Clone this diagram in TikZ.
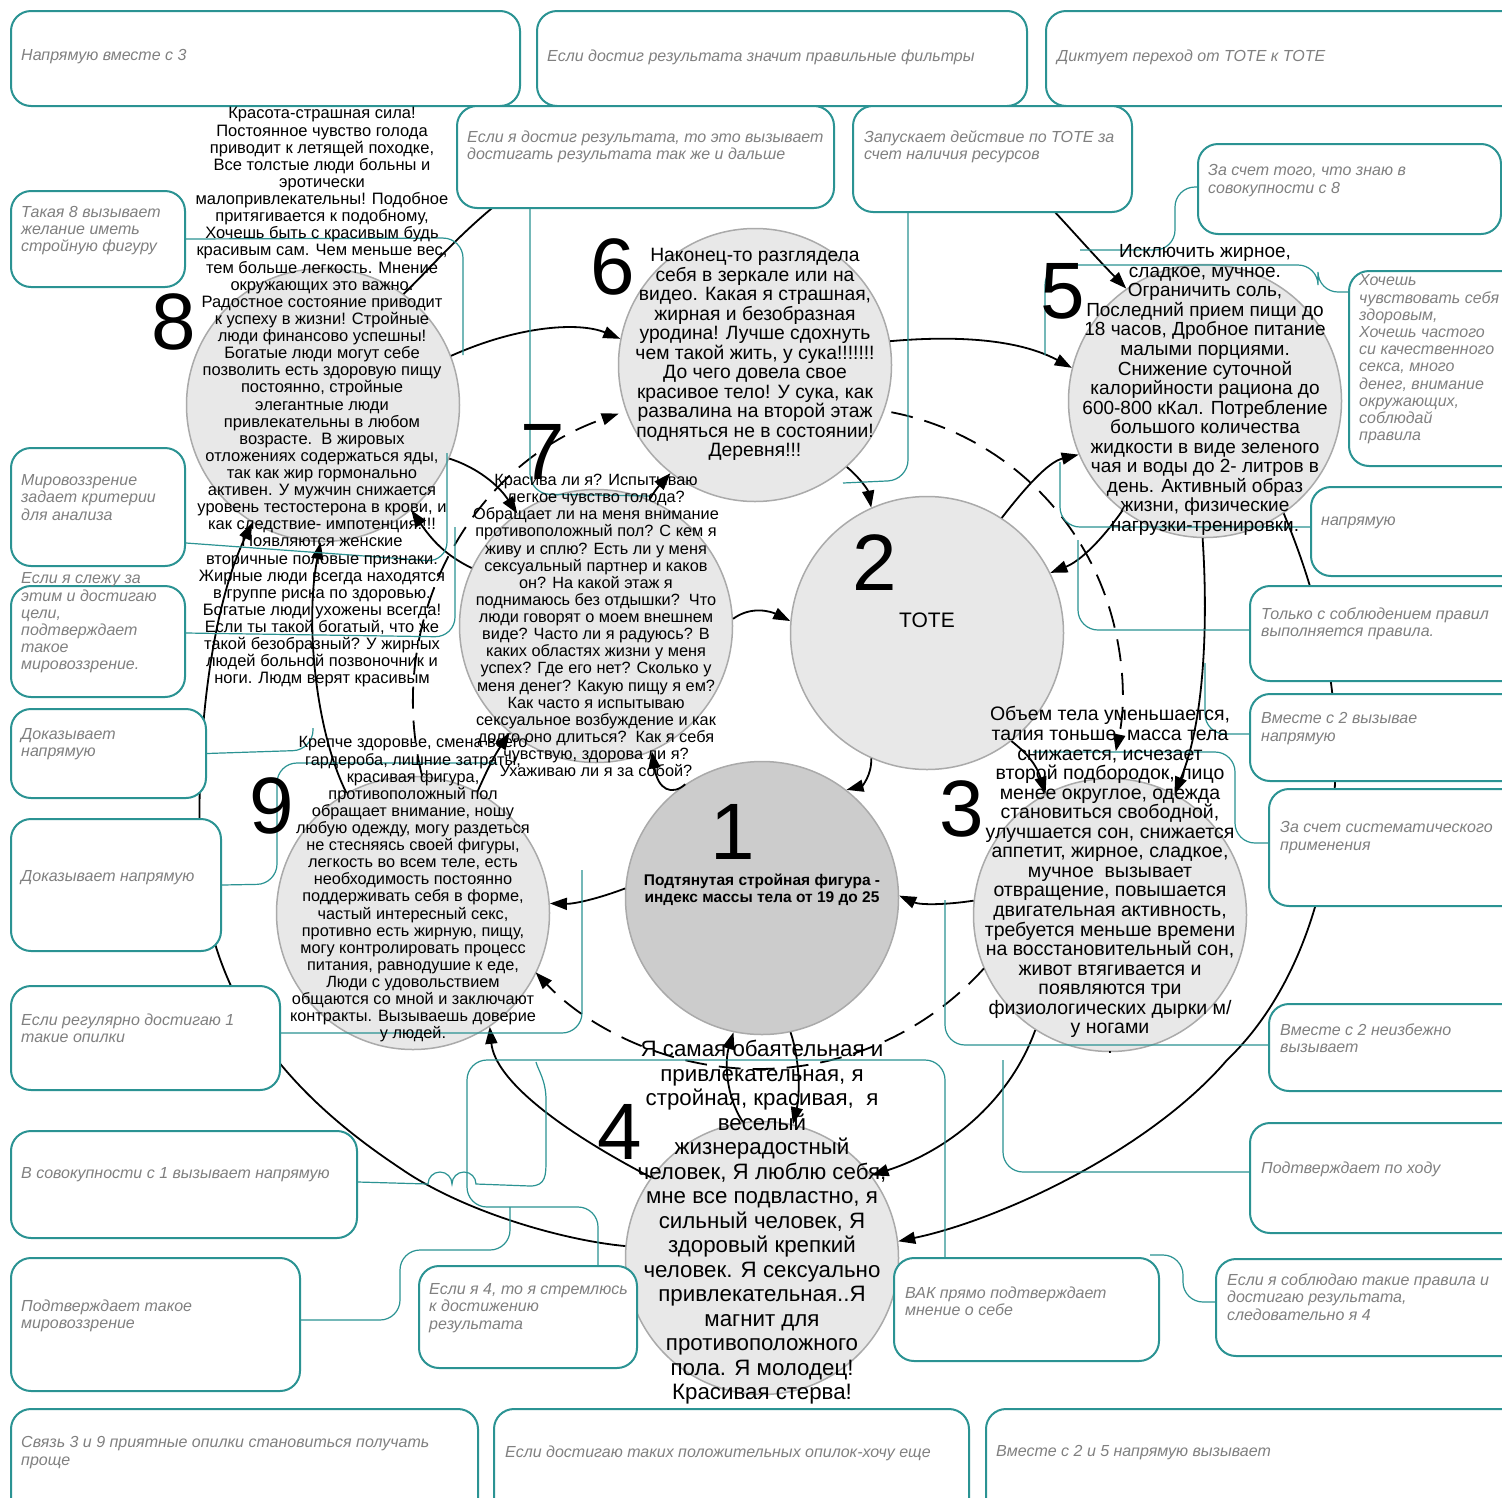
\documentclass[tikz,border=0pt]{standalone}
\usepackage{fontspec}
\setmainfont{Liberation Sans}
\usetikzlibrary{arrows.meta}
\definecolor{tealc}{HTML}{2B9393}
\definecolor{circfill}{HTML}{E8E8E8}
\definecolor{circdark}{HTML}{CCCCCC}
\definecolor{circline}{HTML}{AAAAAA}
\definecolor{boxtxt}{HTML}{808080}
\begin{document}
\begin{tikzpicture}[x=1pt,y=-1pt,
  circ/.style={circle, draw=circline, line width=1.5pt, fill=circfill, minimum size=273pt, inner sep=0pt},
  num/.style={font=\fontsize{80}{80}\selectfont, inner sep=0pt},
  ctxt/.style={align=center, inner sep=0pt},
  arr/.style={draw=black, line width=1.8pt, -{Triangle[length=17pt,width=12pt]}},
  darr/.style={arr, dash pattern=on 22pt off 12pt},
  tline/.style={draw=tealc, line width=1.2pt, rounded corners=20pt},
  bx/.style={draw=tealc, line width=2pt, fill=white, rounded corners=20pt, anchor=north west, inner sep=0pt},
  btxt/.style={font=\fontsize{16}{17.2}\selectfont\itshape, text=boxtxt, align=left, anchor=west, inner sep=0pt}
]
\clip (0,0) rectangle (1502,1497);
\fill[white] (0,0) rectangle (1502,1497);

% circles
\node[circ] (c8) at (323,405) {};
\node[circ] (c6) at (755,365) {};
\node[circ] (c5) at (1205,401) {};
\node[circ] (c7) at (596,626) {};
\node[circ] (c2) at (927,633) {};
\node[circ, fill=circdark] (c1) at (762,898) {};
\node[circ] (c9) at (413,913) {};
\node[circ] (c3) at (1110,915) {};
\node[circ] (c4) at (762,1258) {};

% black connectors
\draw[arr] (c8.21) .. controls (520,325) and (580,322) .. (c6.169);
\draw[arr] (c6.10) .. controls (960,335) and (1020,340) .. (c5.166);
\draw[arr] (c2.57) .. controls (1025,488) and (1048,462) .. (c5.203);
\draw[arr] (c5.233) .. controls (1098,545) and (1078,562) .. (c2.26);
\draw[arr] (c6.-48) .. controls (860,478) and (868,490) .. (c2.114);
\draw[arr] (c7.3) .. controls (752,605) and (772,612) .. (c2.175);
\draw[arr] (c2.246) .. controls (872,775) and (862,786) .. (c1.52);
\draw[arr] (c1.124) .. controls (672,796) and (658,790) .. (c7.-66);
\draw[arr] (c1.176) .. controls (600,898) and (575,904) .. (c9.4);
\draw[arr] (c3.174) .. controls (945,905) and (920,905) .. (c1.1);
\draw[arr] (c1.-78) .. controls (800,1060) and (800,1095) .. (c4.77);
\draw[arr] (c4.98) .. controls (725,1095) and (725,1060) .. (c1.-102);
\draw[arr] (c3.237) .. controls (1010,1100) and (950,1150) .. (c4.37);
\draw[arr] (c5.-55) .. controls (1320,600) and (1340,690) .. (1335,783) .. controls (1330,900) and (1290,1000) .. (1227,1060) .. controls (1150,1150) and (1000,1220) .. (c4.7);
\draw[arr] (c4.175) .. controls (560,1240) and (460,1210) .. (400,1168) .. controls (290,1095) and (205,1000) .. (200,850) .. controls (196,720) and (215,600) .. (c8.239);
\draw[arr] (c4.144) .. controls (560,1130) and (495,1080) .. (c9.-56);
\draw[arr] (c9.119) .. controls (315,730) and (305,620) .. (c8.269);
\draw[arr] (c7.155) .. controls (445,555) and (432,540) .. (c8.-50);
\draw[arr] (c8.-23) .. controls (470,465) and (495,480) .. (c7.125);
\draw[arr] (c9.62) .. controls (488,768) and (493,758) .. (c7.231);
\draw[arr] (c7.67) .. controls (652,495) and (657,488) .. (c6.232);
\draw[arr] (c2.-52) .. controls (1020,748) and (1035,760) .. (c3.118);
\draw[arr] (c5.269) .. controls (1208,620) and (1205,720) .. (c3.62);
\draw[arr] (c8.54) .. controls (470,230) and (560,100) .. (840,90) .. controls (960,85) and (1040,200) .. (c5.125);

% dashed connectors
\coordinate (d1c) at (837,692);
\coordinate (d2c) at (758,765);
\coordinate (d3c) at (718,702);
\draw[darr] ([shift={(-79:285)}]d1c) arc[start angle=-79, end angle=12, radius=285];
\draw[darr] ([shift={(42:304)}]d2c) arc[start angle=42, end angle=137, radius=304];
\draw[darr] ([shift={(166:305)}]d3c) arc[start angle=166, end angle=251, radius=305];

% boxes
\node[bx, minimum width=509pt, minimum height=95pt] (b1) at (10,10) {};
\node[bx, minimum width=490pt, minimum height=95pt] (b2) at (536,10) {};
\node[bx, minimum width=485pt, minimum height=95pt] (b3) at (1045,10) {};
\node[bx, minimum width=377pt, minimum height=102pt] (b4) at (456,105) {};
\node[bx, minimum width=279pt, minimum height=106pt] (b5) at (852,105) {};
\node[bx, minimum width=303pt, minimum height=90pt] (b6) at (1197,143) {};
\node[bx, minimum width=182pt, minimum height=195pt] (b7) at (1348,270) {};
\node[bx, minimum width=220pt, minimum height=89pt] (b8) at (1310,486) {};
\node[bx, minimum width=281pt, minimum height=95pt] (b9) at (1249,585) {};
\node[bx, minimum width=281pt, minimum height=87pt] (b10) at (1249,693) {};
\node[bx, minimum width=262pt, minimum height=117pt] (b11) at (1268,788) {};
\node[bx, minimum width=262pt, minimum height=87pt] (b12) at (1268,1003) {};
\node[bx, minimum width=281pt, minimum height=110pt] (b13) at (1249,1122) {};
\node[bx, minimum width=315pt, minimum height=97pt] (b14) at (1215,1258) {};
\node[bx, minimum width=545pt, minimum height=117pt] (b15) at (985,1408) {};
\node[bx, minimum width=475pt, minimum height=117pt] (b16) at (493,1408) {};
\node[bx, minimum width=467pt, minimum height=117pt] (b17) at (10,1408) {};
\node[bx, minimum width=289pt, minimum height=133pt] (b18) at (10,1257) {};
\node[bx, minimum width=218pt, minimum height=102pt] (b19) at (418,1265) {};
\node[bx, minimum width=265pt, minimum height=103pt] (b20) at (893,1257) {};
\node[bx, minimum width=346pt, minimum height=107pt] (b21) at (10,1130) {};
\node[bx, minimum width=269pt, minimum height=104pt] (b22) at (10,985) {};
\node[bx, minimum width=210pt, minimum height=132pt] (b23) at (10,818) {};
\node[bx, minimum width=195pt, minimum height=89pt] (b24) at (10,708) {};
\node[bx, minimum width=174pt, minimum height=111pt] (b25) at (10,585) {};
\node[bx, minimum width=174pt, minimum height=118pt] (b26) at (10,447) {};
\node[bx, minimum width=174pt, minimum height=96pt] (b27) at (10,190) {};

% teal connectors
\draw[tline] (b27.east) -- (463,238) -- (463,355);
\draw[tline] (b26.east |- 0,543) -- (447,562) -- (447,453);
\draw[tline] (b25.east |- 0,633) -- (455,637) -- (455,527);
\draw[tline] (b24.east) -- (313,750) -- (313,728);
\draw[tline] (b23.east) -- (277,884) -- (277,763) -- (497,763);
\draw[tline] (b22.east |- 0,1033) -- (582,1033) -- (582,870);
\draw[tline, sharp corners] (b21.east |- 0,1182) -- (428,1184) arc[start angle=180, end angle=360, radius=12] arc[start angle=180, end angle=360, radius=12] -- (530,1186) .. controls (546,1186) and (546,1175) .. (546,1160) -- (546,1100) .. controls (546,1080) and (538,1070) .. (536,1062);
\draw[tline] (b18.east |- 0,1320) -- (400,1320) -- (400,1250) -- (510,1250) -- (510,1207);
\draw[tline] (b19.north -| 598,0) -- (598,1207) -- (467,1207) -- (467,1060) -- (945,1060) -- (b20.north -| 945,0);
\draw[tline] (b4.south -| 530,0) -- (530,494) -- (650,496);
\draw[tline] (b5.south -| 908,0) -- (908,480) -- (843,483);
\draw[tline] (b6.west |- 0,187) -- (1175,187) -- (1175,250) -- (1080,250);
\draw[tline] (b7.west |- 0,292) -- (1318,292) -- (1318,265) -- (1045,265) -- (1045,355);
\draw[tline] (b8.west |- 0,527) -- (1060,527) -- (1060,462);
\draw[tline] (b9.west |- 0,630) -- (1078,630) -- (1078,540);
\draw[tline] (b10.west |- 0,734) -- (1205,734) -- (1205,663);
\draw[tline] (b11.west |- 0,843) -- (1235,843) -- (1235,752) -- (1033,752);
\draw[tline] (b12.west |- 0,1045) -- (945,1045) -- (945,900);
\draw[tline] (b13.west |- 0,1172) -- (1003,1172) -- (1003,1060);
\draw[tline] (b14.west |- 0,1302) -- (1183,1302) -- (1183,1255) -- (1150,1255);

% box texts
\node[btxt] (b1t) at (21,57) {Напрямую вместе с 3};
\node[btxt] (b2t) at (547,57) {Если достиг результата значит правильные фильтры};
\node[btxt] (b3t) at (1057,57) {Диктует переход от TOTE к TOTE};
\node[btxt] (b4t) at (467,147) {Если я достиг результата, то это вызывает\\достигать результата так же и дальше};
\node[btxt] (b5t) at (864,147) {Запускает действие по TOTE за\\счет наличия ресурсов};
\node[btxt] (b6t) at (1208,180.5) {За счет того, что знаю в\\совокупности с 8};
\node[btxt] (b7t) at (1359,359.5) {Хочешь\\чувствовать себя\\здоровым,\\Хочешь частого\\си качественного\\секса, много\\денег, внимание\\окружающих,\\соблюдай\\правила};
\node[btxt] (b8t) at (1321,523) {напрямую};
\node[btxt] (b9t) at (1261,623.5) {Только с соблюдением правил\\выполняется правила.};
\node[btxt] (b10t) at (1261,728.5) {Вместе с 2 вызывае\\напрямую};
\node[btxt] (b11t) at (1280,837.5) {За счет систематического\\применения};
\node[btxt] (b12t) at (1280,1038.5) {Вместе с 2 неизбежно\\вызывает};
\node[btxt] (b13t) at (1261,1169) {Подтверждает по ходу};
\node[btxt] (b14t) at (1227,1297) {Если я соблюдаю такие правила и\\достигаю результата,\\следовательно я 4};
\node[btxt] (b15t) at (996,1453) {Вместе с 2 и 5 напрямую вызывает};
\node[btxt] (b16t) at (505,1453) {Если достигаю таких положительных опилок-хочу еще};
\node[btxt] (b17t) at (21,1452.5) {Связь 3 и 9 приятные опилки становиться получать\\проще};
\node[btxt] (b18t) at (21,1316) {Подтверждает такое\\мировоззрение};
\node[btxt] (b19t) at (429,1308) {Если я 4, то я стремлюсь\\к достижению\\результата};
\node[btxt] (b20t) at (905,1301) {ВАК прямо подтверждает\\мнение о себе};
\node[btxt] (b21t) at (21,1175) {В совокупности с 1 вызывает напрямую};
\node[btxt] (b22t) at (21,1028.5) {Если регулярно достигаю 1\\такие опилки};
\node[btxt] (b23t) at (21,878) {Доказывает напрямую};
\node[btxt] (b24t) at (21,744.5) {Доказывает\\напрямую};
\node[btxt] (b25t) at (21,623) {Если я слежу за\\этим и достигаю\\цели,\\подтверждает\\такое\\мировоззрение.};
\node[btxt] (b26t) at (21,497.5) {Мировоззрение\\задает критерии\\для анализа};
\node[btxt] (b27t) at (21,230.5) {Такая 8 вызывает\\желание иметь\\стройную фигуру};

% numbers
\node[num] (n8) at (174,322) {8};
\node[num] (n6) at (613,267) {6};
\node[num] (n5) at (1063,291) {5};
\node[num] (n7) at (543,452) {7};
\node[num] (n2) at (875,563) {2};
\node[num] (n1) at (733,832) {1};
\node[num] (n3) at (962,809) {3};
\node[num] (n9) at (272,806) {9};
\node[num] (n4) at (620,1132) {4};

% circle texts
\node[ctxt, font=\fontsize{21}{24}\selectfont] (tote) at (927,620) {TOTE};
\node[ctxt, font=\fontsize{15.5}{17}\selectfont\bfseries] (t1) at (762,890) {Подтянутая стройная фигура -\\индекс массы тела от 19 до 25};
\node[ctxt, font=\fontsize{16.5}{17.12}\selectfont] (t8) at (322,397.5) {Красота-страшная сила!\\Постоянное чувство голода\\приводит к летящей походке,\\Все толстые люди больны и\\эротически\\малопривлекательны! Подобное\\притягивается к подобному,\\Хочешь быть с красивым будь\\красивым сам. Чем меньше вес,\\тем больше легкость. Мнение\\окружающих это важно.\\Радостное состояние приводит\\к успеху в жизни! Стройные\\люди финансово успешны!\\Богатые люди могут себе\\позволить есть здоровую пищу\\постоянно, стройные\\элегантные люди\\привлекательны в любом\\возрасте.\ \ В жировых\\отложениях содержаться яды,\\так как жир гормонально\\активен. У мужчин снижается\\уровень тестостерона в крови, и\\как следствие- импотенция!!!!\\Появляются женские\\вторичные половые признаки.\\Жирные люди всегда находятся\\в группе риска по здоровью.\\Богатые люди ухожены всегда!\\Если ты такой богатый, что же\\такой безобразный? У жирных\\людей больной позвоночник и\\ноги. Людм верят красивым};
\node[ctxt, font=\fontsize{19.3}{19.5}\selectfont] (t6) at (755,354.5) {Наконец-то разглядела\\себя в зеркале или на\\видео. Какая я страшная,\\жирная и безобразная\\уродина! Лучше сдохнуть\\чем такой жить, у сука!!!!!!!\\До чего довела свое\\красивое тело! У сука, как\\развалина на второй этаж\\подняться не в состоянии!\\Деревня!!!};
\node[ctxt, font=\fontsize{19}{19.57}\selectfont] (t5) at (1205,390) {Исключить жирное,\\сладкое, мучное.\\Ограничить соль,\\Последний прием пищи до\\18 часов, Дробное питание\\малыми порциями.\\Снижение суточной\\калорийности рациона до\\600-800 кКал. Потребление\\большого количества\\жидкости в виде зеленого\\чая и воды до 2- литров в\\день. Активный образ\\жизни, физические\\нагрузки-тренировки.};
\node[ctxt, font=\fontsize{16.3}{17.12}\selectfont] (t7) at (596,625.5) {Красива ли я? Испытываю\\легкое чувство голода?\\Обращает ли на меня внимание\\противоположный пол? С кем я\\живу и сплю? Есть ли у меня\\сексуальный партнер и каков\\он? На какой этаж я\\поднимаюсь без отдышки?\ \ Что\\люди говорят о моем внешнем\\виде? Часто ли я радуюсь? В\\каких областях жизни у меня\\успех? Где его нет? Сколько у\\меня денег? Какую пищу я ем?\\Как часто я испытываю\\сексуальное возбуждение и как\\долго оно длиться?\ \ Как я себя\\чувствую, здорова ли я?\\Ухаживаю ли я за собой?};
\node[ctxt, font=\fontsize{16.3}{17.12}\selectfont] (t9) at (413,889.5) {Крепче здоровье, смена всего\\гардероба, лишние затраты,\\красивая фигура,\\противоположный пол\\обращает внимание, ношу\\любую одежду, могу раздеться\\не стесняясь своей фигуры,\\легкость во всем теле, есть\\необходимость постоянно\\поддерживать себя в форме,\\частый интересный секс,\\противно есть жирную, пищу,\\могу контролировать процесс\\питания, равнодушие к еде,\\Люди с удовольствием\\общаются со мной и заключают\\контракты. Вызываешь доверие\\у людей.};
\node[ctxt, font=\fontsize{19.5}{19.55}\selectfont] (t3) at (1110,880) {Объем тела уменьшается,\\талия тоньше, масса тела\\снижается, исчезает\\второй подбородок, лицо\\менее округлое, одежда\\становиться свободной,\\улучшается сон, снижается\\аппетит, жирное, сладкое,\\мучное\ \ вызывает\\отвращение, повышается\\двигательная активность,\\требуется меньше времени\\на восстановительный сон,\\живот втягивается и\\появляются три\\физиологических дырки м/\\у ногами\\.};
\node[ctxt, font=\fontsize{22.3}{24.5}\selectfont] (t4) at (762,1222.5) {Я самая обаятельная и\\привлекательная, я\\стройная, красивая,\ \ я\\веселый\\жизнерадостный\\человек, Я люблю себя,\\мне все подвластно, я\\сильный человек, Я\\здоровый крепкий\\человек. Я сексуально\\привлекательная..Я\\магнит для\\противоположного\\пола. Я молодец!\\Красивая стерва!};
\end{tikzpicture}
\end{document}
